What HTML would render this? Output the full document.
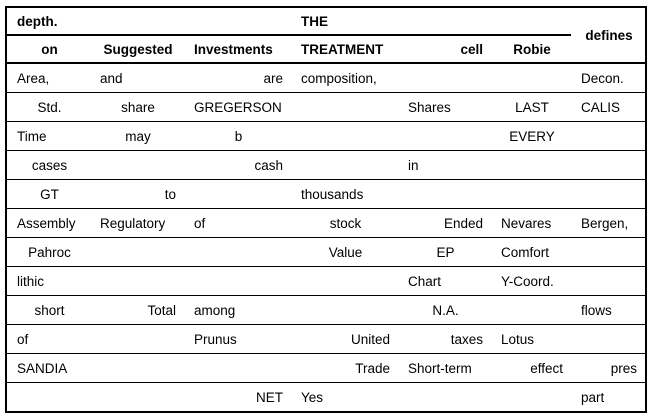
<!DOCTYPE html>
<html><head><meta charset="utf-8"><style>
body{margin:0;background:#fff;width:650px;height:418px;overflow:hidden}
table{position:absolute;left:5px;top:6px;border-collapse:collapse;border:2px solid #000;font-family:"Liberation Sans",sans-serif;font-size:13.5px;color:#000;table-layout:fixed;width:640px}
td,th{padding:0 8px 0 10px;height:28px;border-bottom:1px solid #000;white-space:nowrap;overflow:hidden}
th{font-weight:bold;border-bottom:2px solid #000;height:26px}
.l{text-align:left}.c{text-align:center}.r{text-align:right}
</style></head><body>
<table>
<colgroup><col style="width:84px"><col style="width:94px"><col style="width:107px"><col style="width:107px"><col style="width:93px"><col style="width:80px"><col style="width:75px"></colgroup>
<tr><th class="l" colspan="3">depth.</th><th class="l" colspan="3">THE</th><th class="c" rowspan="2">defines</th></tr>
<tr><th class="c">on</th><th class="c">Suggested</th><th class="l">Investments</th><th class="l">TREATMENT</th><th class="r">cell</th><th class="c">Robie</th></tr>
<tr><td class="l">Area,</td><td class="l">and</td><td class="r">are</td><td class="l">composition,</td><td></td><td></td><td class="l">Decon.</td></tr>
<tr><td class="c">Std.</td><td class="c">share</td><td class="l">GREGERSON</td><td></td><td class="l">Shares</td><td class="c">LAST</td><td class="l">CALIS</td></tr>
<tr><td class="l">Time</td><td class="c">may</td><td class="c">b</td><td></td><td></td><td class="c">EVERY</td><td></td></tr>
<tr><td class="c">cases</td><td></td><td class="r">cash</td><td></td><td class="l">in</td><td></td><td></td></tr>
<tr><td class="c">GT</td><td class="r">to</td><td></td><td class="l">thousands</td><td></td><td></td><td></td></tr>
<tr><td class="l">Assembly</td><td class="l">Regulatory</td><td class="l">of</td><td class="c">stock</td><td class="r">Ended</td><td class="l">Nevares</td><td class="l">Bergen,</td></tr>
<tr><td class="c">Pahroc</td><td></td><td></td><td class="c">Value</td><td class="c">EP</td><td class="l">Comfort</td><td></td></tr>
<tr><td class="l">lithic</td><td></td><td></td><td></td><td class="l">Chart</td><td class="l">Y-Coord.</td><td></td></tr>
<tr><td class="c">short</td><td class="r">Total</td><td class="l">among</td><td></td><td class="c">N.A.</td><td></td><td class="l">flows</td></tr>
<tr><td class="l">of</td><td></td><td class="l">Prunus</td><td class="r">United</td><td class="r">taxes</td><td class="l">Lotus</td><td></td></tr>
<tr><td class="l">SANDIA</td><td></td><td></td><td class="r">Trade</td><td class="l">Short-term</td><td class="r">effect</td><td class="r">pres</td></tr>
<tr><td></td><td></td><td class="r">NET</td><td class="l">Yes</td><td></td><td></td><td class="l">part</td></tr>
</table>
</body></html>
